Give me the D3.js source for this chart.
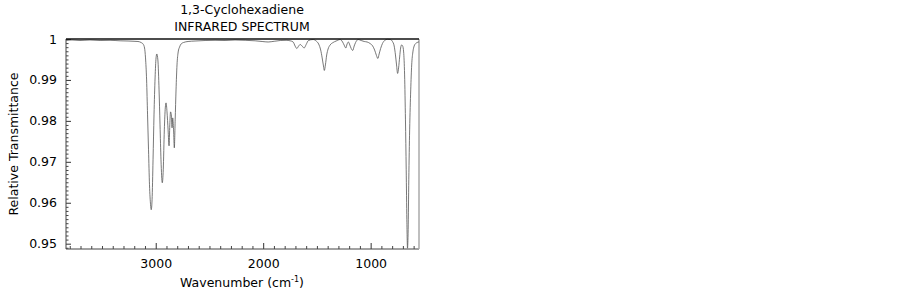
<!DOCTYPE html>
<html>
<head>
<meta charset="utf-8">
<script src="https://cdn.jsdelivr.net/npm/d3@7"></script>
<style>
  body { margin: 0; background: #fff; }
  svg text { font-family: "DejaVu Sans", sans-serif; font-size: 12.5px; fill: #000; }
</style>
</head>
<body>
<div class="ir-plot"></div>
<script>
// wavenumber (cm-1)
const wavenumbers = [3835, 3779, 3705, 3612, 3518, 3425, 3332, 3258, 3202, 3165, 3137, 3118, 3104, 3095,
    3085, 3076, 3067, 3058, 3048, 3042, 3034, 3025, 3016, 3006, 2997, 2990, 2980, 2969, 2960, 2951,
    2939, 2930, 2920, 2911, 2904, 2895, 2885, 2876, 2869, 2862, 2855, 2848, 2842, 2834, 2827, 2819,
    2811, 2802, 2791, 2778, 2764, 2741, 2699, 2634, 2541, 2448, 2355, 2262, 2168, 2075, 2010, 1954,
    1898, 1842, 1787, 1749, 1721, 1703, 1687, 1670, 1656, 1638, 1619, 1600, 1579, 1535, 1507, 1484,
    1465, 1451, 1439, 1431, 1421, 1409, 1396, 1377, 1349, 1321, 1284, 1261, 1247, 1231, 1219, 1207,
    1194, 1181, 1167, 1153, 1140, 1116, 1088, 1060, 1033, 1005, 981, 963, 946, 933, 921, 907, 890,
    870, 846, 818, 797, 781, 769, 759, 749, 740, 730, 721, 712, 702, 693, 684, 676, 669, 663, 657,
    651, 645, 637, 627, 618, 607, 595, 581, 567, 550];

// relative transmittance at each wavenumber
const transmittance = [0.99963, 0.99976, 0.99963, 0.99976, 0.99963, 0.99968, 0.99956, 0.99951, 0.99944,
    0.99939, 0.99915, 0.99878, 0.9978, 0.99537, 0.9900, 0.98146, 0.97293, 0.96439, 0.95951, 0.95829,
    0.96073, 0.97049, 0.98146, 0.99049, 0.99537, 0.99634, 0.99488, 0.98756, 0.97902, 0.97049, 0.96488,
    0.96805, 0.9778, 0.98317, 0.98439, 0.9822, 0.9778, 0.9739, 0.97902, 0.9822, 0.98146, 0.97829,
    0.98073, 0.9778, 0.97341, 0.98024, 0.98756, 0.99366, 0.99683, 0.99805, 0.99878, 0.99915, 0.99939,
    0.99951, 0.99963, 0.99968, 0.99963, 0.99976, 0.99968, 0.99956, 0.99939, 0.99927, 0.99944, 0.99963,
    0.99968, 0.99956, 0.99927, 0.99829, 0.99768, 0.99829, 0.99866, 0.99829, 0.9978, 0.99866, 0.99963,
    0.99988, 0.99951, 0.99878, 0.99732, 0.99537, 0.99341, 0.99232, 0.99366, 0.9961, 0.99756, 0.99854,
    0.99915, 0.99951, 0.99988, 0.99927, 0.99854, 0.9978, 0.99878, 0.99927, 0.99854, 0.99768, 0.9972,
    0.99829, 0.99915, 0.99988, 0.99963, 0.99939, 0.99927, 0.9989, 0.99829, 0.99732, 0.99598, 0.99524,
    0.99634, 0.99768, 0.9989, 0.99963, 0.99993, 0.99988, 0.99939, 0.99829, 0.9961, 0.99366, 0.99159,
    0.99293, 0.99561, 0.9978, 0.99854, 0.99829, 0.99683, 0.99122, 0.98024, 0.96805, 0.95585, 0.9489,
    0.95341, 0.96561, 0.9778, 0.98756, 0.99366, 0.99683, 0.99829, 0.9989, 0.99915, 0.99932];

const xMajorTicks = [1000, 2000, 3000];
const yMajorTicks = [0.95, 0.96, 0.97, 0.98, 0.99, 1];

const spectrum = wavenumbers.map((w, i) => ({ w: w, t: transmittance[i] }));

drawSpectrum();

function drawSpectrum() {
    const width = 902;
    const height = 289;
    const left = 66, right = 419, top = 39, bottom = 249;

    const svg = d3.select('.ir-plot')
        .append('svg')
        .attr('width', width)
        .attr('height', height);

    const x = d3.scaleLinear().domain([3835, 550]).range([left, right]);
    const y = d3.scaleLinear().domain([0.9487, 1.0]).range([bottom, top]);

    // titles
    svg.append("text")
        .attr("x", 242).attr("y", 14)
        .attr("text-anchor", "middle")
        .text("1,3-Cyclohexadiene");
    svg.append("text")
        .attr("x", 242).attr("y", 31)
        .attr("text-anchor", "middle")
        .text("INFRARED SPECTRUM");

    // minor ticks, pointing inward
    const xMinor = d3.range(600, 3900, 100).filter(d => d <= 3835 && d >= 550 && d % 1000 !== 0);
    svg.append("g")
        .attr("transform", `translate(0,${bottom})`)
        .call(d3.axisBottom(x).tickValues(xMinor).tickSize(-3).tickFormat(""))
        .call(g => g.select(".domain").remove())
        .call(g => g.selectAll("line").attr("stroke", "#444"));

    const yMinor = d3.range(949, 1000, 1).map(d => d / 1000).filter(d => Math.round(d * 1000) % 10 !== 0);
    svg.append("g")
        .attr("transform", `translate(${left},0)`)
        .call(d3.axisLeft(y).tickValues(yMinor).tickSize(-2.5).tickFormat(""))
        .call(g => g.select(".domain").remove())
        .call(g => g.selectAll("line").attr("stroke", "#444"));

    // major ticks + labels
    svg.append("g")
        .attr("transform", `translate(0,${bottom})`)
        .call(d3.axisBottom(x).tickValues(xMajorTicks).tickSize(-6).tickPadding(10).tickFormat(d3.format("d")))
        .call(g => g.select(".domain").remove())
        .call(g => g.selectAll("line").attr("stroke", "#333"))
        .call(g => g.selectAll("text").attr("font-size", 12.5).attr("font-family", "DejaVu Sans"));

    svg.append("g")
        .attr("transform", `translate(${left},0)`)
        .call(d3.axisLeft(y).tickValues(yMajorTicks).tickSize(-5).tickPadding(9)
            .tickFormat(d => d === 1 ? "1" : d3.format(".2f")(d)))
        .call(g => g.select(".domain").remove())
        .call(g => g.selectAll("line").attr("stroke", "#333"))
        .call(g => g.selectAll("text").attr("font-size", 12.5).attr("font-family", "DejaVu Sans"));

    // frame
    svg.append("line").attr("x1", left).attr("x2", left).attr("y1", top).attr("y2", bottom)
        .attr("stroke", "#444");
    svg.append("line").attr("x1", left).attr("x2", right).attr("y1", bottom).attr("y2", bottom)
        .attr("stroke", "#444");
    svg.append("line").attr("x1", right).attr("x2", right).attr("y1", top).attr("y2", bottom)
        .attr("stroke", "#aaa").attr("stroke-width", 1.5);

    // spectrum
    svg.append("clipPath").attr("id", "plot-clip")
        .append("rect").attr("x", left).attr("y", top - 1).attr("width", right - left).attr("height", bottom - top + 1);

    const line = d3.line()
        .x(d => x(d.w))
        .y(d => y(d.t))
        .curve(d3.curveMonotoneX);

    svg.append("path")
        .datum(spectrum)
        .attr("clip-path", "url(#plot-clip)")
        .attr("fill", "none")
        .attr("stroke", "#555")
        .attr("stroke-width", 0.8)
        .attr("d", line);

    // top border drawn over the data
    svg.append("line").attr("x1", left).attr("x2", right).attr("y1", top).attr("y2", top)
        .attr("stroke", "#111").attr("stroke-width", 1.5);

    // axis titles
    const xlab = svg.append("text")
        .attr("x", 242).attr("y", 287)
        .attr("text-anchor", "middle");
    xlab.append("tspan").text("Wavenumber (cm");
    xlab.append("tspan").attr("font-size", 8).attr("dy", -5).text("-1");
    xlab.append("tspan").attr("dy", 5).text(")");

    svg.append("text")
        .attr("transform", "translate(18,144) rotate(-90)")
        .attr("text-anchor", "middle")
        .text("Relative Transmittance");
}
</script>
</body>
</html>
